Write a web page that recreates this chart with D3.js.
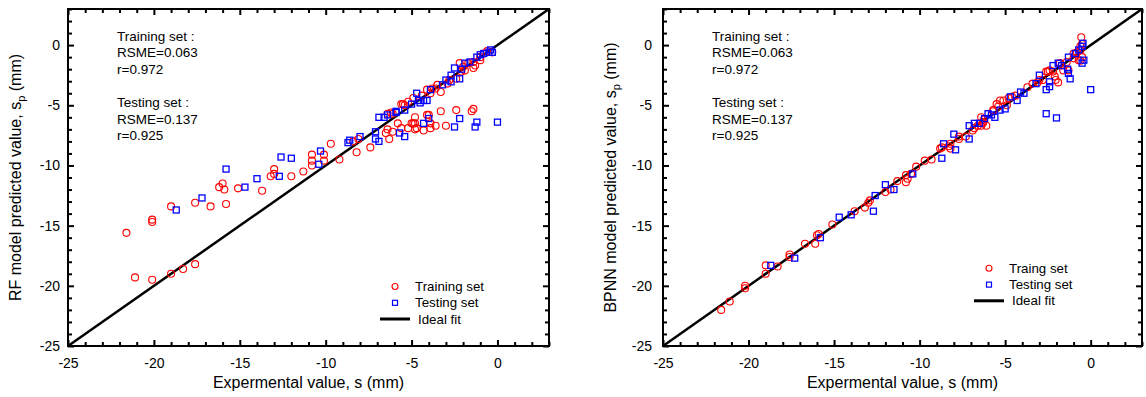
<!DOCTYPE html>
<html>
<head>
<meta charset="utf-8">
<script src="https://cdn.jsdelivr.net/npm/d3@7"></script>
<style>
    body { margin: 0; background: #fff; }
    svg { display: block; font-family: Arial, "Liberation Sans", sans-serif; }
</style>
</head>
<body>
<svg id="chart" width="1146" height="397"></svg>
<script>
// axis setup
const axisDomain = [-25, 3];
const majorTicks = [-25, -20, -15, -10, -5, 0];
const minorTicks = d3.range(-25, 4).filter(v => v % 5 !== 0);

const statsLines = ['Training set :', 'RSME=0.063', 'r=0.972', '', 'Testing set :', 'RSME=0.137', 'r=0.925'];

// RF model: [experimental, predicted]
const rfTrain = [
    [-21.6, -15.6], [-20.1, -14.5], [-20.1, -14.7], [-19.0, -13.4], [-17.6, -13.1], [-16.7, -13.4], [-15.8, -13.2],
    [-21.1, -19.3], [-20.1, -19.5], [-19.0, -19.0], [-18.3, -18.6], [-17.6, -18.2],
    [-16.0, -11.5], [-15.9, -12.0], [-16.2, -11.8], [-15.1, -11.9], [-13.7, -12.1], [-13.2, -10.9], [-13.0, -10.3],
    [-13.0, -10.7], [-12.0, -10.9], [-11.3, -10.5],
    [-10.8, -9.1], [-10.8, -9.6], [-10.8, -10.0], [-10.1, -9.1], [-10.1, -9.6], [-9.7, -8.2], [-9.2, -9.5],
    [-8.2, -8.9], [-7.4, -8.5], [-8.4, -8.0], [-8.1, -7.8],
    [-6.5, -7.3], [-6.3, -7.8], [-6.4, -7.0], [-6.1, -7.2], [-5.8, -6.5], [-5.6, -6.9], [-5.2, -6.9], [-5.0, -6.5],
    [-4.8, -6.0], [-4.7, -6.9], [-4.8, -6.5], [-4.1, -5.8], [-4.9, -6.5], [-3.9, -6.5], [-3.6, -6.7], [-3.0, -6.7],
    [-4.8, -7.0], [-3.9, -6.9], [-4.3, -7.1],
    [-4.0, -5.8], [-3.3, -5.5], [-2.4, -5.4], [-1.4, -5.3], [-1.5, -5.5],
    [-6.4, -5.7], [-6.2, -5.6], [-6.1, -5.7], [-5.6, -4.9], [-5.5, -4.9], [-5.4, -5.0], [-5.2, -4.7], [-4.9, -4.4],
    [-4.4, -4.2], [-4.1, -3.7], [-3.9, -4.0], [-3.8, -3.6], [-3.6, -3.6], [-3.5, -3.3], [-3.3, -3.9], [-2.9, -3.2],
    [-2.8, -2.9], [-2.4, -2.8], [-2.2, -1.5], [-2.1, -2.2], [-2.0, -1.8], [-1.9, -2.1], [-1.7, -1.5], [-1.4, -1.9],
    [-1.4, -1.4], [-1.3, -1.7], [-1.0, -1.0], [-1.0, -1.25], [-0.8, -0.7], [-0.6, -0.5], [-0.3, -0.6]
];

const rfTest = [
    [-18.7, -13.7], [-17.2, -12.7], [-15.8, -10.3], [-14.7, -11.8], [-14.0, -11.1], [-12.6, -9.3], [-12.0, -9.4],
    [-12.7, -10.9], [-10.3, -8.8], [-10.4, -9.9], [-8.7, -8.1], [-8.6, -7.9], [-8.0, -7.6], [-7.1, -7.2],
    [-7.1, -7.8], [-6.9, -8.0], [-6.9, -6.0], [-6.6, -6.0], [-6.4, -5.8], [-5.9, -5.6], [-5.7, -7.3], [-5.4, -7.6],
    [-5.0, -4.9], [-4.7, -4.0], [-4.1, -4.6], [-4.3, -6.5], [-4.0, -6.1], [-5.9, -5.5], [-5.4, -5.4], [-4.6, -4.6],
    [-4.3, -4.6], [-4.5, -4.8], [-3.9, -3.7], [-3.2, -3.3], [-3.0, -2.9], [-2.7, -2.5], [-2.7, -3.05], [-2.2, -2.8],
    [-2.5, -1.9], [-2.1, -2.0], [-1.9, -1.5], [-1.6, -1.4], [-1.2, -1.0], [-1.0, -0.8], [-0.8, -0.7], [-0.5, -0.6],
    [-0.4, -0.4], [-0.3, -0.6], [-2.2, -6.1], [-2.5, -6.8], [-1.2, -6.4], [-1.3, -6.8], [0.0, -6.4]
];

// BPNN model: [experimental, predicted]
const bpTrain = [
    [-21.6, -22.0], [-21.1, -21.3], [-20.2, -20.0], [-20.2, -20.2], [-19.0, -18.3], [-19.0, -19.0], [-18.3, -18.4],
    [-17.6, -17.4], [-17.6, -17.6], [-16.7, -16.5], [-16.1, -16.5], [-16.0, -15.8], [-15.9, -15.7], [-15.1, -14.9],
    [-13.8, -13.8], [-13.2, -13.5], [-13.0, -13.1], [-12.9, -12.9], [-12.0, -12.2], [-11.7, -12.0], [-11.3, -11.3],
    [-10.8, -10.8], [-10.7, -11.1], [-10.8, -11.4], [-10.5, -10.7], [-10.2, -10.1], [-9.7, -9.6], [-9.3, -9.5],
    [-8.8, -8.6], [-8.7, -8.5], [-8.3, -8.4], [-8.2, -8.6], [-8.2, -8.2], [-7.7, -7.8], [-7.7, -7.6], [-7.3, -7.6],
    [-6.9, -7.1], [-6.8, -6.9], [-6.6, -6.7], [-6.4, -6.7], [-6.3, -6.5], [-6.1, -6.7], [-6.4, -6.0], [-6.3, -6.4],
    [-6.25, -6.2], [-5.7, -5.4], [-5.7, -5.5], [-5.5, -4.9], [-5.4, -5.1], [-5.3, -4.6], [-5.1, -4.6], [-4.9, -5.0],
    [-4.8, -4.4], [-4.6, -4.3], [-4.4, -4.2], [-3.7, -3.5], [-3.4, -3.2], [-3.1, -3.1], [-3.0, -2.9], [-2.8, -2.9],
    [-2.6, -2.2], [-2.5, -2.2], [-2.4, -2.1], [-2.2, -2.2], [-2.05, -2.9], [-1.9, -3.1], [-2.1, -2.6], [-1.7, -1.7],
    [-1.6, -2.1], [-1.4, -1.4], [-1.3, -2.1], [-1.0, -0.7], [-1.0, -1.1], [-0.7, -1.25], [-0.6, -1.3], [-0.5, -1.0],
    [-0.6, -0.4], [-0.5, 0.1], [-0.55, 0.65], [-0.6, -0.1], [-0.8, -0.6], [-1.8, -1.5]
];

const bpTest = [
    [-18.7, -18.3], [-17.3, -17.7], [-15.8, -16.0], [-14.7, -14.3], [-14.0, -14.1], [-12.7, -13.8], [-12.6, -12.5],
    [-12.0, -11.6], [-11.5, -12.0], [-10.4, -10.7], [-8.7, -9.4], [-8.6, -8.2], [-8.0, -7.4], [-7.9, -8.7],
    [-7.1, -7.8], [-7.1, -6.7], [-6.8, -6.5], [-6.5, -6.5], [-6.2, -6.1], [-6.0, -5.7], [-5.8, -5.8], [-5.6, -6.0],
    [-5.3, -5.4], [-5.0, -5.3], [-4.7, -4.3], [-4.3, -4.6], [-4.1, -3.9], [-3.9, -4.0], [-3.2, -3.2], [-3.0, -2.5],
    [-2.6, -3.7], [-2.4, -3.05], [-2.4, -3.45], [-2.2, -1.7], [-1.9, -1.5], [-1.7, -1.7], [-1.35, -2.0], [-1.3, -1.0],
    [-1.3, -2.35], [-1.2, -2.8], [-0.9, -0.7], [-0.7, -0.4], [-0.5, -0.1], [-0.45, 0.15], [-0.4, -1.25],
    [-0.5, -1.5], [0.0, -3.7], [-2.6, -5.7], [-2.0, -6.05]
];

const svg = d3.select('#chart');
const plotTop = 9, plotBottom = 346;

function drawPanel(p) {
    const g = svg.append('g');

    const x = d3.scaleLinear().domain(axisDomain).range([p.left, p.right]);
    const y = d3.scaleLinear().domain(axisDomain).range([plotBottom, plotTop]);

    // ticks, all pointing inward
    const axes = [
        [d3.axisBottom, `translate(0,${plotBottom})`, x],
        [d3.axisTop, `translate(0,${plotTop})`, x],
        [d3.axisLeft, `translate(${p.left},0)`, y],
        [d3.axisRight, `translate(${p.right},0)`, y]
    ];
    axes.forEach(([axisFn, tr, sc], i) => {
        const labelled = i === 0 || i === 2;
        g.append('g').attr('transform', tr)
            .call(axisFn(sc).tickValues(minorTicks).tickSize(-4).tickFormat(''))
            .call(a => a.select('.domain').remove());
        const major = g.append('g').attr('transform', tr)
            .call(axisFn(sc).tickValues(majorTicks).tickSize(-6)
                .tickPadding(i === 0 ? 12 : p.yPad)
                .tickFormat(labelled ? (d => String(d)) : ''));
        major.attr('font-family', null).attr('font-size', null);
        major.select('.domain').remove();
        major.selectAll('text').attr('font-size', 14).attr('fill', '#000');
    });
    g.selectAll('.tick line').attr('stroke', '#000').attr('stroke-width', 2);

    // frame
    g.append('rect')
        .attr('x', p.left).attr('y', plotTop)
        .attr('width', p.right - p.left).attr('height', plotBottom - plotTop)
        .attr('fill', 'none').attr('stroke', '#000').attr('stroke-width', 2);

    // ideal fit
    g.append('line')
        .attr('x1', x(axisDomain[0])).attr('y1', y(axisDomain[0]))
        .attr('x2', x(axisDomain[1])).attr('y2', y(axisDomain[1]))
        .attr('stroke', '#000').attr('stroke-width', 2.5);

    g.append('g').selectAll('circle')
        .data(p.train)
        .join('circle')
        .attr('cx', d => x(d[0]))
        .attr('cy', d => y(d[1]))
        .attr('r', 3.5)
        .attr('fill', 'none')
        .attr('stroke', '#ff0000')
        .attr('stroke-width', 1.1);

    g.append('g').selectAll('rect')
        .data(p.test)
        .join('rect')
        .attr('x', d => x(d[0]) - 3)
        .attr('y', d => y(d[1]) - 3)
        .attr('width', 6).attr('height', 6)
        .attr('fill', 'none')
        .attr('stroke', '#0000ff')
        .attr('stroke-width', 1.3);

    // stats text
    const st = g.append('text').attr('font-size', 13.5).attr('fill', '#000');
    statsLines.forEach((s, i) => {
        st.append('tspan').attr('x', p.left + 49).attr('y', 40.5 + i * 16.6).text(s);
    });

    // axis titles
    g.append('text')
        .attr('x', (p.left + p.right) / 2).attr('y', 388)
        .attr('text-anchor', 'middle').attr('font-size', 16)
        .text('Expermental value, s (mm)');

    const yt = g.append('text')
        .attr('transform', `translate(${p.yTitleX},${(plotTop + plotBottom) / 2}) rotate(-90)`)
        .attr('text-anchor', 'middle').attr('font-size', 16);
    yt.append('tspan').text(p.yTitle + ', s');
    yt.append('tspan').attr('font-size', 11).attr('dy', 4).text('p');
    yt.append('tspan').attr('dy', -4).text(' (mm)');

    // legend
    const lg = g.append('g').attr('font-size', 13.3);
    lg.append('circle').attr('cx', p.legX).attr('cy', p.legY)
        .attr('r', 3).attr('fill', 'none').attr('stroke', '#ff0000').attr('stroke-width', 1.1);
    lg.append('text').attr('x', p.legX + 20).attr('y', p.legY + 4.5).text(p.trainLabel);
    lg.append('rect').attr('x', p.legX - 2.5).attr('y', p.legY + 16.3 - 2.5)
        .attr('width', 5).attr('height', 5)
        .attr('fill', 'none').attr('stroke', '#0000ff').attr('stroke-width', 1.2);
    lg.append('text').attr('x', p.legX + 20).attr('y', p.legY + 16.3 + 4.5).text('Testing set');
    lg.append('line').attr('x1', p.legX - 15).attr('x2', p.legX + 15)
        .attr('y1', p.legY + 32.5).attr('y2', p.legY + 32.5)
        .attr('stroke', '#000').attr('stroke-width', 3);
    lg.append('text').attr('x', p.legX + 23).attr('y', p.legY + 32.5 + 4.5).text('Ideal fit');
}

drawPanel({
    left: 68, right: 549, yPad: 8, yTitleX: 21,
    yTitle: 'RF model predicted value',
    train: rfTrain, test: rfTest,
    legX: 395, legY: 286.5, trainLabel: 'Training set'
});

drawPanel({
    left: 663, right: 1142, yPad: 11, yTitleX: 616,
    yTitle: 'BPNN model predicted value',
    train: bpTrain, test: bpTest,
    legX: 989, legY: 268.3, trainLabel: 'Traing set'
});
</script>
</body>
</html>
